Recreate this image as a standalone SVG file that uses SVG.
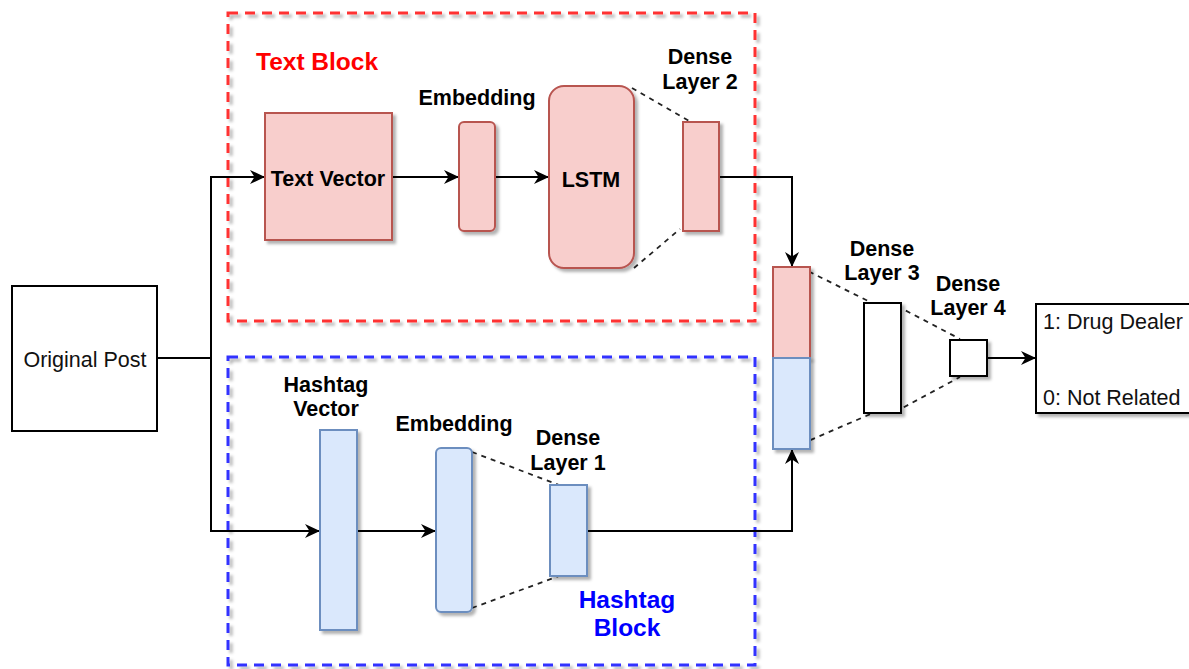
<svg xmlns="http://www.w3.org/2000/svg" width="1189" height="669" viewBox="0 0 1189 669">
<style>
.lbl{font-family:"Liberation Sans",Arial,sans-serif;font-size:21.5px;font-weight:bold;fill:#000;text-anchor:middle}
.plain{font-family:"Liberation Sans",Arial,sans-serif;font-size:21.5px;fill:#111}
.blk{font-family:"Liberation Sans",Arial,sans-serif;font-size:24.5px;font-weight:bold}
.pink{fill:#f8cecc;stroke:#b85450;stroke-width:2}
.blue{fill:#dae8fc;stroke:#6c8ebf;stroke-width:2}
.wht{fill:#fff;stroke:#000;stroke-width:2}
.conn{fill:none;stroke:#000;stroke-width:2}
.dash{fill:none;stroke:#222;stroke-width:1.8;stroke-dasharray:5 5}
</style>
<defs>
<filter id="sh" x="-20%" y="-20%" width="140%" height="140%">
<feDropShadow dx="3" dy="3" stdDeviation="1.5" flood-color="#000" flood-opacity="0.3"/>
</filter>
<marker id="arr" viewBox="0 0 15 14" refX="15" refY="7" markerWidth="15" markerHeight="14" markerUnits="userSpaceOnUse" orient="auto">
<path d="M0,0 L15,7 L0,14 L4.5,7 Z" fill="#000"/>
</marker>
</defs>
<rect width="1189" height="669" fill="#fff"/>

<g id="text-block">
<rect x="228" y="13" width="527" height="308" fill="none" stroke="#ff3333" stroke-width="3" stroke-dasharray="10 7" filter="url(#sh)"/>
<text class="blk" x="256" y="70" fill="#ff0000">Text Block</text>
</g>
<g id="hashtag-block">
<rect x="228" y="357" width="527" height="308" fill="none" stroke="#3333ff" stroke-width="3" stroke-dasharray="10 7" filter="url(#sh)"/>
<text class="blk" x="627" y="608" fill="#0000ff" text-anchor="middle">Hashtag</text>
<text class="blk" x="627" y="636" fill="#0000ff" text-anchor="middle">Block</text>
</g>

<g id="connectors">
<path class="conn" d="M157,358 H211"/>
<path class="conn" d="M211,358 V177 H265" marker-end="url(#arr)"/>
<path class="conn" d="M211,358 V531 H320" marker-end="url(#arr)"/>
<path class="conn" d="M392,177 H459" marker-end="url(#arr)"/>
<path class="conn" d="M495,177 H549" marker-end="url(#arr)"/>
<path class="conn" d="M719,177 H792 V267" marker-end="url(#arr)"/>
<path class="conn" d="M357,531 H436" marker-end="url(#arr)"/>
<path class="conn" d="M587,531 H792 V449" marker-end="url(#arr)"/>
<path class="conn" d="M987,358 H1036" marker-end="url(#arr)"/>
<path class="dash" d="M632,88 L691,122"/>
<path class="dash" d="M634,268 L680,229"/>
<path class="dash" d="M472,452 L559,485"/>
<path class="dash" d="M472,608 L559,576"/>
<path class="dash" d="M800,267 L872,303"/>
<path class="dash" d="M792,448 L873,413"/>
<path class="dash" d="M897,306 L960,339"/>
<path class="dash" d="M895,412 L960,377"/>
</g>

<g id="original-post">
<rect x="12" y="286" width="145" height="145" fill="#fff" stroke="#000" stroke-width="2"/>
<text class="plain" x="85" y="367" text-anchor="middle">Original Post</text>
</g>

<g id="text-vector">
<rect class="pink" x="265" y="113" width="127" height="127" filter="url(#sh)"/>
<text class="lbl" x="328" y="186">Text Vector</text>
</g>
<g id="text-embedding">
<rect class="pink" x="459" y="122" width="36" height="109" rx="5" filter="url(#sh)"/>
<text class="lbl" x="477" y="105">Embedding</text>
</g>
<g id="lstm">
<rect class="pink" x="549" y="86" width="85" height="182" rx="15" filter="url(#sh)"/>
<text class="lbl" x="591" y="187">LSTM</text>
</g>
<g id="dense2">
<rect class="pink" x="683" y="122" width="36" height="109" filter="url(#sh)"/>
<text class="lbl" x="700" y="64">Dense</text>
<text class="lbl" x="700" y="89">Layer 2</text>
</g>

<g id="hashtag-vector">
<rect class="blue" x="320" y="430" width="37" height="200" filter="url(#sh)"/>
<text class="lbl" x="326" y="392">Hashtag</text>
<text class="lbl" x="326" y="416">Vector</text>
</g>
<g id="hashtag-embedding">
<rect class="blue" x="436" y="448" width="36" height="164" rx="5" filter="url(#sh)"/>
<text class="lbl" x="454" y="431">Embedding</text>
</g>
<g id="dense1">
<rect class="blue" x="550" y="485" width="37" height="91" filter="url(#sh)"/>
<text class="lbl" x="568" y="445">Dense</text>
<text class="lbl" x="568" y="470">Layer 1</text>
</g>

<g id="concat">
<rect class="pink" x="773" y="267" width="37" height="91" filter="url(#sh)"/>
<rect class="blue" x="773" y="358" width="37" height="91" filter="url(#sh)"/>
</g>
<g id="dense3">
<rect class="wht" x="864" y="303" width="37" height="110" filter="url(#sh)"/>
<text class="lbl" x="882" y="256">Dense</text>
<text class="lbl" x="882" y="280">Layer 3</text>
</g>
<g id="dense4">
<rect class="wht" x="950" y="340" width="37" height="36" filter="url(#sh)"/>
<text class="lbl" x="968" y="291">Dense</text>
<text class="lbl" x="968" y="315">Layer 4</text>
</g>
<g id="output">
<rect class="wht" x="1036" y="304" width="160" height="109" filter="url(#sh)"/>
<text class="plain" x="1043" y="329">1: Drug Dealer</text>
<text class="plain" x="1043" y="405">0: Not Related</text>
</g>
</svg>
